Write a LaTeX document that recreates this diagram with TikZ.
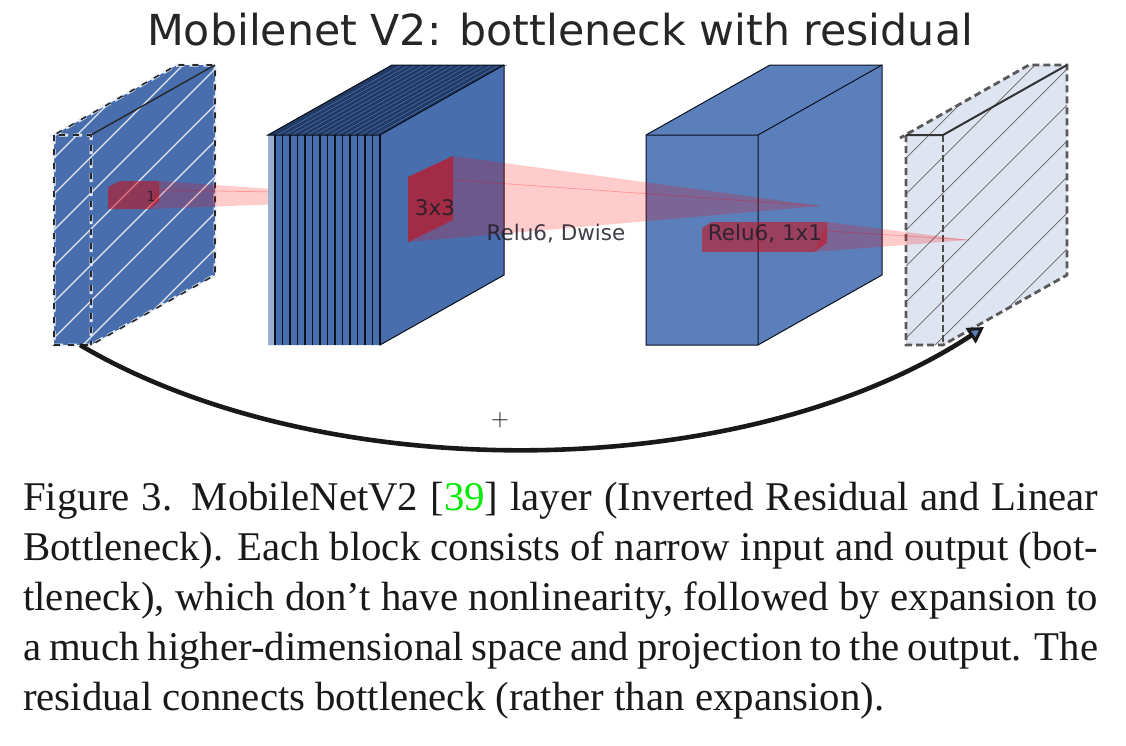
\documentclass[tikz,border=0pt]{standalone}
\usepackage{fontspec}
\setmainfont{Liberation Serif}
\newfontfamily\plotfont{DejaVu Sans}
\usetikzlibrary{arrows.meta}
\definecolor{inblue}{RGB}{72,110,174}
\definecolor{midblue}{RGB}{91,127,187}
\definecolor{topnavy}{RGB}{34,58,100}
\definecolor{paleblue}{RGB}{222,228,240}
\definecolor{citegreen}{RGB}{0,235,0}
\definecolor{plottext}{RGB}{30,30,40}
\tikzset{
  face/.style={draw=#1,line width=1pt,line join=miter},
  hatchwhite/.style={draw=white!85!inblue,line width=1.1pt},
  hatchdark/.style={draw=black!60,line width=.7pt},
  cone/.style={fill=red,fill opacity=.2,draw=none},
  conebox/.style={fill=red!85!black,fill opacity=.5,draw=none},
  coreline/.style={draw=red,draw opacity=.25,line width=.8pt},
  plotlabel/.style={font=\plotfont\fontsize{21.5}{25}\selectfont,text=plottext,text opacity=.85,inner sep=0pt},
}
\newlength{\capw}\setlength{\capw}{1075pt}
\newcommand{\capline}[1]{\hbox to \capw{#1}}
\begin{document}
\begin{tikzpicture}[x=1pt,y=-1pt]
  \useasboundingbox (0,0) rectangle (1126,745);
  \fill[white] (0,0) rectangle (1126,745);
  \node[inner sep=0pt,font=\plotfont\fontsize{42.7}{50}\selectfont,text=black!85] (title) at (560,30) {Mobilenet V2: bottleneck with residual};
  % input block
  \fill[inblue] (54,135) -- (177,65) -- (215,65) -- (215,275) -- (91,345) -- (54,345) -- cycle;
  \begin{scope}
    \clip (54,135) -- (177,65) -- (215,65) -- (215,275) -- (91,345) -- (54,345) -- cycle;
    \foreach \c in {212,248,...,500}
      \draw[hatchwhite] (\c-500,500) -- (\c,0);
  \end{scope}
  \draw[white!85!inblue,line width=3pt,dash pattern=on 9pt off 5pt] (54,135) -- (54,345) -- (91,345) -- (215,275) -- (215,65) -- (177,65) -- (54,135) -- (91,135) -- (91,345);
  \draw[black!85,line width=1.6pt,dash pattern=on 6pt off 8pt] (54,135) -- (54,345) -- (91,345) -- (215,275) -- (215,65) -- (177,65) -- (54,135) -- (91,135) -- (91,345);
  \draw[black!85,line width=1.4pt] (91,135) -- (215,65);
  % red patch on the input block
  \fill[cone] (159,181) -- (416,199) -- (150,209) -- cycle;
  \draw[coreline] (159,190) -- (275,192);
  \fill[conebox] (108,187) -- (120,181) -- (159,181) -- (159,201) -- (150,209) -- (108,209) -- cycle;
  \node[plotlabel,font=\plotfont\fontsize{14}{16}\selectfont] (patchone) at (151,196) {1};
  % expansion block
  \fill[inblue] (268,135) -- (380,135) -- (504,65) -- (504,275) -- (380,345) -- (268,345) -- cycle;
  \fill[white,fill opacity=.45] (268,135) rectangle (276,345);
  \fill[topnavy] (268,135) -- (392,65) -- (504,65) -- (380,135) -- cycle;
  \foreach \i in {0,...,14}{
    \draw[inblue,line width=.6pt] ({275+\i*7.5+2.5},135) -- ({399+\i*7.5+2.5},65);
    \draw[black!70!topnavy,line width=1.4pt] ({275+\i*7.5},135) -- ({275+\i*7.5},345);
  }
  \draw[face=black!75!topnavy] (268,135) -- (380,135) -- (380,345) -- (504,275) -- (504,65) -- (392,65) -- cycle;
  \draw[face=black!75!topnavy] (380,135) -- (504,65);
  % block after depthwise
  \fill[midblue] (646,135) -- (770,65) -- (882,65) -- (882,275) -- (758,345) -- (646,345) -- cycle;
  \draw[face=black!70!topnavy] (646,135) -- (770,65) -- (882,65) -- (882,275) -- (758,345) -- (646,345) -- cycle;
  \draw[face=black!70!topnavy] (646,135) -- (758,135) -- (758,345) (758,135) -- (882,65);
  % output block
  \fill[paleblue] (906,135) -- (1029,65) -- (1067,65) -- (1067,275) -- (943,345) -- (906,345) -- cycle;
  \begin{scope}
    \clip (906,135) -- (1029,65) -- (1067,65) -- (1067,275) -- (943,345) -- (906,345) -- cycle;
    \foreach \c in {1064,1100,...,1352}
      \draw[hatchdark] (\c-500,500) -- (\c,0);
  \end{scope}
  \draw[black!65,line width=2.8pt,dash pattern=on 7pt off 4pt] (906,135) -- (906,345) -- (943,345) -- (1067,275) -- (1067,65) -- (1029,65) -- (900,138);
  \draw[black!70,line width=2.8pt,dash pattern=on 7pt off 3pt] (943,135) -- (943,345);
  \draw[black!80,line width=2pt] (906,135) -- (943,135) -- (1067,65);
  % red cones
  \fill[cone] (453,156) -- (820,206) -- (408,242) -- (408,177) -- cycle;
  \draw[coreline] (453,180) -- (820,206);
  \fill[conebox] (408,177) -- (453,156) -- (453,220) -- (408,242) -- cycle;
  \fill[cone] (827,222) -- (969,240) -- (814,252) -- cycle;
  \draw[coreline] (827,231) -- (969,240);
  \fill[conebox] (702,228) -- (712,222) -- (827,222) -- (827,243) -- (814,252) -- (702,252) -- cycle;
  \node[plotlabel] (dwisesize) at (435,208) {3x3};
  \node[plotlabel] (dwiselabel) at (556,234) {Relu6, Dwise};
  \node[plotlabel] (convlabel) at (765,234) {Relu6, 1x1};
  % residual connection
  \coordinate (resstart) at (80,345);
  \coordinate (resend) at (984,327);
  \draw[black!90,line width=4.6pt,-{Triangle[open,length=16pt,width=18pt,line width=3pt,fill=midblue]}] (resstart) .. controls (320,487) and (740,487) .. (resend);
  \node[inner sep=0pt,font=\fontsize{36}{38}\selectfont,text=black!95] (plus) at (500,420) {$+$};
  % caption
  \node[anchor=north west,inner sep=0pt,align=left,font=\fontsize{40.8}{50}\selectfont,text=black!90] (caption) at (23,482) {%
    \capline{Figure 3. MobileNetV2 [\textcolor{citegreen}{39}] layer (Inverted Residual and Linear}\\
    \capline{Bottleneck). Each block consists of narrow input and output (bot-}\\
    \capline{tleneck), which don’t have nonlinearity, followed by expansion to}\\
    \capline{a much higher-dimensional space and projection to the output. The}\\
    residual connects bottleneck (rather than expansion).};
\end{tikzpicture}
\end{document}
